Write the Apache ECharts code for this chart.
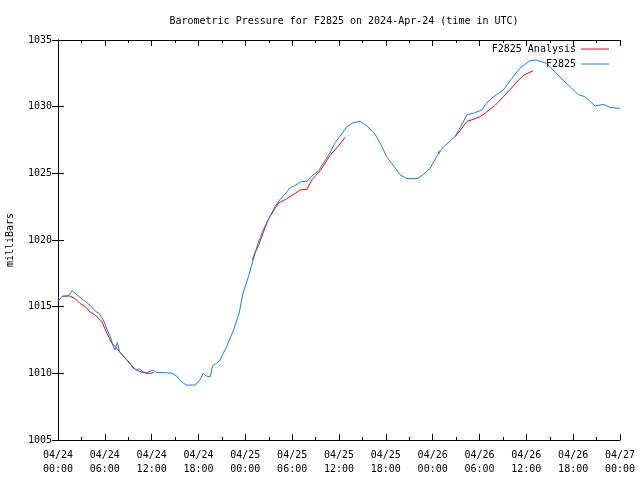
<!DOCTYPE html>
<html>
<head>
<meta charset="utf-8">
<script src="https://cdn.jsdelivr.net/npm/echarts@6/dist/echarts.min.js"></script>
<style>html,body{margin:0;padding:0;background:#fff}#c{width:640px;height:480px}</style>
</head>
<body>
<div id="c"></div>
<script>
// Hours since 2024-04-24 00:00 UTC
var stationHours = [0,0.5,1.3,1.4,1.8,2.8,3.5,4.1,4.9,5.2,5.8,6.2,6.7,7.1,7.3,7.6,7.9,8.4,9.0,9.6,10.1,10.4,10.9,11.4,12.2,12.6,13.9,14.6,15.2,15.6,16.4,17.6,18.2,18.6,19.0,19.5,19.8,20.3,20.75,21.6,22.5,23.2,23.7,24.4,25.0,25.7,26.3,26.9,27.8,28.4,29.1,29.7,30.4,31.2,31.9,32.5,33.4,34.0,34.8,35.5,36.1,37.0,37.8,38.7,39.5,40.4,40.8,41.5,42.1,42.75,43.4,43.8,44.7,46.0,46.8,47.7,48.5,49.4,50.2,50.9,51.5,52.4,53.2,54.3,54.9,55.8,57.05,58.1,59.2,60.5,61.3,61.75,62.6,63.7,64.7,65.8,66.65,67.5,68.8,69.9,70.7,72];
var stationValues = [1015.4,1015.75,1015.8,1015.65,1016.2,1015.7,1015.4,1015.1,1014.6,1014.55,1014.0,1013.4,1012.75,1012.0,1011.75,1012.3,1011.6,1011.3,1010.9,1010.4,1010.25,1010.35,1010.1,1010.05,1010.25,1010.07,1010.05,1010.0,1009.8,1009.5,1009.12,1009.12,1009.5,1010.0,1009.8,1009.75,1010.57,1010.75,1011.0,1012.0,1013.25,1014.5,1016.0,1017.25,1018.5,1019.9,1020.75,1021.5,1022.5,1023.0,1023.45,1023.9,1024.1,1024.4,1024.4,1024.8,1025.2,1025.75,1026.5,1027.3,1027.75,1028.5,1028.8,1028.9,1028.6,1028.1,1027.75,1027.0,1026.25,1025.75,1025.25,1024.9,1024.6,1024.6,1024.9,1025.4,1026.25,1027.0,1027.4,1027.8,1028.4,1029.4,1029.5,1029.75,1030.25,1030.75,1031.25,1032.1,1032.9,1033.45,1033.5,1033.4,1033.25,1032.6,1032.0,1031.4,1030.9,1030.75,1030.05,1030.17,1029.95,1029.87];

// null marks a gap in the analysis series
var analysisHours = [0.6,1.5,2.2,2.8,3.5,4.1,4.7,5.6,6.2,6.9,7.5,7.9,8.8,9.9,10.7,11.4,12.0,12.3,
                     18.0,
                     24.9,25.2,25.7,26.1,26.9,28.2,29.3,30.4,31.0,31.9,32.5,33.6,34.8,35.7,36.8,
                     42.0,
                     48.7,48.85,
                     50.0,
                     50.9,51.5,52.4,53.2,54.1,54.9,56.0,57.05,58.1,59.0,59.8,60.9];
var analysisValues = [1015.8,1015.8,1015.6,1015.25,1015.0,1014.6,1014.4,1013.9,1013.1,1012.25,1011.9,1011.6,1011.0,1010.3,1010.1,1010.0,1010.0,1010.1,
                      null,
                      1018.5,1019.0,1019.6,1020.25,1021.5,1022.75,1023.1,1023.5,1023.75,1023.8,1024.5,1025.2,1026.3,1026.9,1027.7,
                      null,
                      1026.5,1026.7,
                      null,
                      1027.75,1028.2,1028.9,1029.05,1029.25,1029.6,1030.1,1030.75,1031.4,1032.0,1032.4,1032.7];

var titleText = 'Barometric Pressure for F2825 on 2024-Apr-24 (time in UTC)';
var yLabel = 'milliBars';
var seriesNames = ['F2825 Analysis', 'F2825'];

var FONT = '"DejaVu Sans Mono", "Liberation Mono", monospace';
function pairs(h, v){ return h.map(function(x,i){ return [x, v[i] === null ? '-' : v[i]]; }); }
function pad(n){ return (n<10?'0':'')+n; }
function xLabel(h){
  var day = 24 + Math.floor(h/24);
  var hr = Math.round(h - Math.floor(h/24)*24);
  return '04/' + pad(day) + '\n' + pad(hr) + ':00';
}

var chart = echarts.init(document.getElementById('c'));
var xCommon = {
  type:'value', min:0, max:72, interval:6,
  axisLine:{show:true, lineStyle:{color:'#000', width:1}},
  axisTick:{show:true, inside:true, length:6, lineStyle:{color:'#000'}},
  minorTick:{show:true, splitNumber:2, length:3, lineStyle:{color:'#000'}},
  splitLine:{show:false}
};
var yCommon = {
  type:'value', min:1005, max:1035, interval:5,
  axisLine:{show:true, lineStyle:{color:'#000', width:1}},
  axisTick:{show:true, inside:true, length:6, lineStyle:{color:'#000'}},
  splitLine:{show:false}
};
chart.setOption({
  animation:false,
  backgroundColor:'#fff',
  title:{text:titleText, left:339, top:11, textAlign:'center',
    textStyle:{fontFamily:FONT, fontSize:10, fontWeight:'normal', color:'#000'}},
  grid:{left:58, right:20, top:40, bottom:40, containLabel:false, outerBoundsMode:'none'},
  legend:[
    {data:[seriesNames[0]], right:31, top:44, align:'right', icon:'rect', itemWidth:28, itemHeight:1,
     textStyle:{fontFamily:FONT, fontSize:10, color:'#000'}, padding:0},
    {data:[seriesNames[1]], right:31, top:59, align:'right', icon:'rect', itemWidth:28, itemHeight:1,
     textStyle:{fontFamily:FONT, fontSize:10, color:'#000'}, padding:0}
  ],
  xAxis:[
    Object.assign({}, xCommon, {position:'bottom',
      axisLabel:{show:true, margin:8, fontFamily:FONT, fontSize:10, color:'#000', lineHeight:14, formatter:xLabel}}),
    Object.assign({}, xCommon, {position:'top', axisLabel:{show:false}})
  ],
  yAxis:[
    Object.assign({}, yCommon, {position:'left', name:yLabel, nameLocation:'middle', nameGap:43, nameRotate:90,
      nameTextStyle:{fontFamily:FONT, fontSize:10, color:'#000'},
      axisLabel:{show:true, margin:6, fontFamily:FONT, fontSize:10, color:'#000',
        formatter:function(v){ return String(v); }}}),
    Object.assign({}, yCommon, {position:'right', axisLabel:{show:false}})
  ],
  series:[
    {name:seriesNames[0], type:'line', data:pairs(analysisHours, analysisValues), showSymbol:false, connectNulls:false,
     lineStyle:{color:'#ff0000', width:1}, itemStyle:{color:'#ff0000'}, z:2},
    {name:seriesNames[1], type:'line', data:pairs(stationHours, stationValues), showSymbol:false,
     lineStyle:{color:'#1080ff', width:1}, itemStyle:{color:'#1080ff'}, z:3}
  ]
});
</script>
</body>
</html>
